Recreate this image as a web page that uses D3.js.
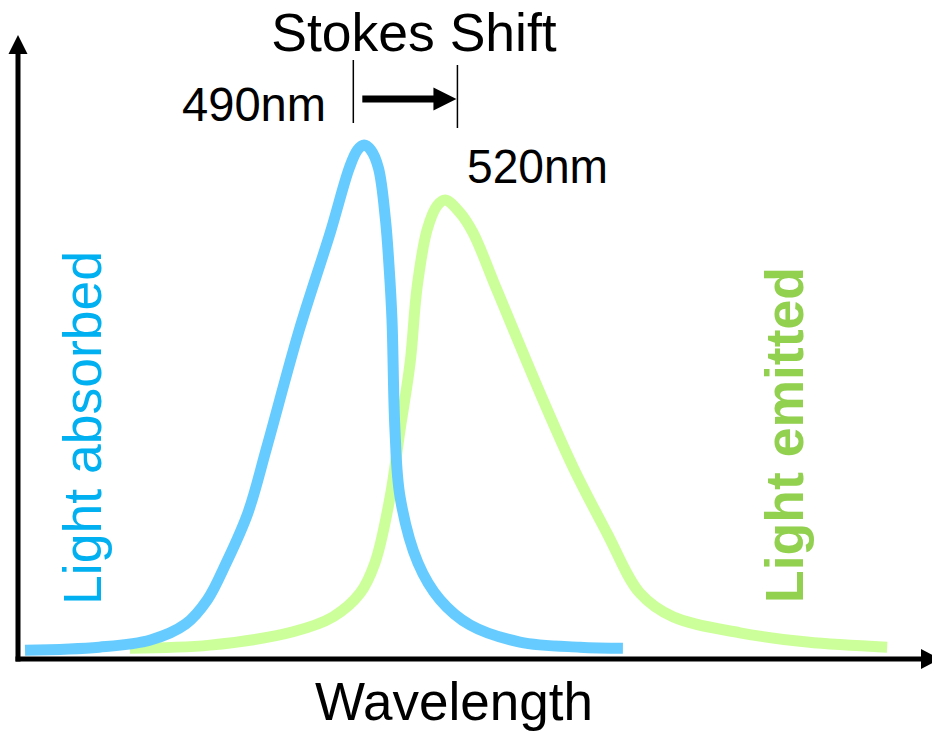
<!DOCTYPE html>
<html>
<head>
<meta charset="utf-8">
<script src="https://cdn.jsdelivr.net/npm/d3@7"></script>
<style>
  html, body { margin: 0; padding: 0; background: #fff; }
  svg { display: block; }
  text { font-family: "Liberation Sans", Arial, sans-serif; }
</style>
</head>
<body>
<svg id="chart" width="932" height="732"></svg>
<script>
// Absorption spectrum: [wavelength (nm), relative intensity]
const absorbed = [
  [364.6, 0.017], [392, 0.023], [411, 0.037], [424, 0.068], [432, 0.115],
  [439, 0.187], [447, 0.284], [454, 0.412], [466, 0.64], [477.5, 0.83],
  [484.5, 0.955], [487.5, 0.99], [490, 1.0], [492.5, 0.99], [495.3, 0.955],
  [497.9, 0.854], [499.3, 0.757], [500.3, 0.66], [501.4, 0.446], [503.3, 0.315],
  [509.9, 0.187], [518.1, 0.115], [529.2, 0.066], [547.6, 0.033], [569.8, 0.023],
  [585.7, 0.021]
];
// Emission spectrum: [wavelength (nm), relative intensity]
const emitted = [
  [403.4, 0.021], [433, 0.027], [463.7, 0.053], [478.5, 0.082], [488.5, 0.128],
  [494, 0.187], [499.6, 0.315], [503.3, 0.446], [507, 0.576], [509.6, 0.724],
  [513.3, 0.835], [517, 0.882], [520, 0.893], [525.5, 0.868], [530.3, 0.829],
  [539.1, 0.718], [555, 0.518], [567.2, 0.374], [579.8, 0.245], [592, 0.128],
  [604.2, 0.082], [629, 0.051], [653.8, 0.033], [683.4, 0.023]
];
const peakLabels = ["490nm", "520nm"];
const shiftMarks = [486, 524.5]; // nm positions of the Stokes shift bracket
const seriesNames = ["Light absorbed", "Light emitted"];
const titleText = "Stokes Shift";
const xTitle = "Wavelength";

const svg = d3.select("#chart");
const x = d3.scaleLinear().domain([362, 700]).range([18, 932]);
const y = d3.scaleLinear().domain([0, 1]).range([659, 145]);

const blue = "#66CCFF", green = "#CCFF99";
const blueText = "#00B0F0", greenText = "#92D050";

// Axes with arrowheads
const axisY = y(0);
svg.append("line").attr("x1", 18).attr("x2", 18).attr("y1", axisY + 2.5).attr("y2", 52)
  .attr("stroke", "#000").attr("stroke-width", 5);
svg.append("path").attr("d", "M18,35 L27.5,54 L8.5,54 Z").attr("fill", "#000");
svg.append("line").attr("x1", 15.5).attr("x2", 923).attr("y1", axisY).attr("y2", axisY)
  .attr("stroke", "#000").attr("stroke-width", 5);
svg.append("path").attr("d", `M921,${axisY - 10} L940,${axisY} L921,${axisY + 10} Z`).attr("fill", "#000");

// Spectra
const line = d3.line().x(d => x(d[0])).y(d => y(d[1])).curve(d3.curveCatmullRom.alpha(0.5));
svg.append("path").datum(emitted).attr("d", line)
  .attr("fill", "none").attr("stroke", green).attr("stroke-width", 11).attr("stroke-linecap", "butt");
svg.append("path").datum(absorbed).attr("d", line)
  .attr("fill", "none").attr("stroke", blue).attr("stroke-width", 11).attr("stroke-linecap", "butt");

// Stokes shift bracket
const m0 = x(shiftMarks[0]), m1 = x(shiftMarks[1]);
svg.append("line").attr("x1", m0).attr("x2", m0).attr("y1", 60).attr("y2", 123)
  .attr("stroke", "#000").attr("stroke-width", 1.5);
svg.append("line").attr("x1", m1).attr("x2", m1).attr("y1", 65).attr("y2", 128)
  .attr("stroke", "#000").attr("stroke-width", 1.5);
svg.append("line").attr("x1", m0 + 9).attr("x2", m1 - 22).attr("y1", 99).attr("y2", 99)
  .attr("stroke", "#000").attr("stroke-width", 7);
svg.append("path").attr("d", `M${m1 - 24},87.5 L${m1 - 1},99 L${m1 - 24},110.5 Z`).attr("fill", "#000");

// Text
svg.append("text").attr("x", 414).attr("y", 51).attr("text-anchor", "middle")
  .attr("font-size", 53.5).attr("fill", "#000").text(titleText);
svg.append("text").attr("x", 182).attr("y", 121).attr("font-size", 48)
  .attr("textLength", 144).attr("lengthAdjust", "spacingAndGlyphs").attr("fill", "#000").text(peakLabels[0]);
svg.append("text").attr("x", 467).attr("y", 183).attr("font-size", 48)
  .attr("textLength", 141).attr("lengthAdjust", "spacingAndGlyphs").attr("fill", "#000").text(peakLabels[1]);
svg.append("text").attr("x", 454).attr("y", 720).attr("text-anchor", "middle")
  .attr("font-size", 53).attr("fill", "#000").text(xTitle);
svg.append("text").attr("transform", "translate(101,428) rotate(-90)").attr("text-anchor", "middle")
  .attr("font-size", 53.5).attr("fill", blueText).text(seriesNames[0]);
svg.append("text").attr("transform", "translate(803,435) rotate(-90)").attr("text-anchor", "middle")
  .attr("font-size", 53.5).attr("font-weight", "bold").attr("fill", greenText).text(seriesNames[1]);
</script>
</body>
</html>
